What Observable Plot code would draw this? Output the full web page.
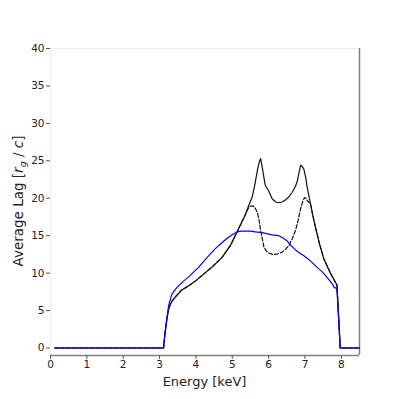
<!DOCTYPE html>
<html>
<head>
<meta charset="utf-8">
<script src="https://cdn.jsdelivr.net/npm/d3@7"></script>
<script src="https://cdn.jsdelivr.net/npm/@observablehq/plot@0.6"></script>
<style>
  html, body { margin: 0; padding: 0; background: #fff; }
  #chart { width: 399px; height: 399px; }
</style>
</head>
<body>
<div id="chart"></div>
<script>
// ---- data ----
const xTicks = [0, 1, 2, 3, 4, 5, 6, 7, 8];
const yTicks = [0, 5, 10, 15, 20, 25, 30, 35, 40];

const solidE = [0.12, 3.11, 3.15, 3.20, 3.25, 3.32, 3.43, 3.60, 3.80, 4.00, 4.17, 4.44, 4.72, 4.95, 5.13, 5.25, 5.36, 5.45, 5.55, 5.62, 5.69, 5.74, 5.78, 5.83, 5.87, 5.91, 6.00, 6.10, 6.20, 6.28, 6.37, 6.47, 6.56, 6.65, 6.74, 6.79, 6.83, 6.88, 6.93, 6.97, 7.02, 7.06, 7.15, 7.22, 7.29, 7.40, 7.52, 7.70, 7.88, 7.97, 8.50];
const solidL = [0, 0, 2.0, 3.8, 5.2, 6.1, 6.8, 7.7, 8.3, 9.0, 9.7, 10.8, 12.1, 13.7, 15.5, 16.7, 17.8, 19.0, 20.2, 21.8, 23.7, 24.8, 25.3, 24.0, 22.8, 21.7, 21.0, 19.9, 19.5, 19.4, 19.5, 19.8, 20.2, 20.8, 21.6, 22.3, 23.3, 24.4, 24.2, 23.9, 22.8, 21.5, 19.3, 17.6, 16.1, 13.9, 11.9, 10.0, 8.4, 0, 0];

const dashedE = [0.12, 3.11, 3.15, 3.20, 3.25, 3.32, 3.43, 3.60, 3.80, 4.00, 4.17, 4.44, 4.72, 4.95, 5.13, 5.25, 5.36, 5.41, 5.48, 5.57, 5.63, 5.69, 5.74, 5.78, 5.83, 5.87, 5.93, 6.00, 6.10, 6.19, 6.28, 6.37, 6.47, 6.56, 6.65, 6.74, 6.81, 6.88, 6.94, 6.99, 7.03, 7.06, 7.10, 7.15, 7.22, 7.29, 7.40, 7.52, 7.70, 7.88, 7.97, 8.50];
const dashedL = [0, 0, 2.0, 3.8, 5.2, 6.1, 6.8, 7.7, 8.3, 9.0, 9.7, 10.8, 12.1, 13.7, 15.5, 16.7, 17.8, 18.4, 18.9, 19.0, 18.7, 18.1, 17.0, 15.7, 14.5, 13.5, 13.0, 12.7, 12.5, 12.5, 12.6, 12.8, 13.2, 13.7, 14.6, 15.7, 17.0, 18.6, 19.6, 20.1, 20.0, 19.7, 19.5, 19.3, 17.6, 16.1, 13.9, 11.9, 10.0, 8.4, 0, 0];

const blueE = [0.12, 3.11, 3.15, 3.20, 3.25, 3.34, 3.43, 3.52, 3.65, 3.80, 3.95, 4.08, 4.22, 4.35, 4.50, 4.63, 4.77, 4.90, 5.02, 5.13, 5.25, 5.36, 5.50, 5.64, 5.82, 6.10, 6.28, 6.40, 6.51, 6.61, 6.74, 6.85, 6.98, 7.11, 7.22, 7.35, 7.47, 7.58, 7.68, 7.76, 7.80, 7.85, 7.88, 7.97, 8.50];
const blueL = [0, 0, 2.0, 3.9, 5.7, 7.2, 7.8, 8.3, 8.9, 9.5, 10.2, 10.8, 11.6, 12.3, 13.1, 13.7, 14.3, 14.8, 15.2, 15.5, 15.6, 15.6, 15.6, 15.5, 15.4, 15.1, 15.0, 14.7, 14.3, 13.7, 13.1, 12.7, 12.3, 11.8, 11.3, 10.7, 10.2, 9.6, 9.0, 8.5, 8.1, 8.0, 7.9, 0, 0];

const xLabel = "Energy [keV]";

// tables for Plot
const toRows = (E, L) => E.map((e, i) => ({E: e, L: L[i]}));
const solid = toRows(solidE, solidL);
const dashed = toRows(dashedE, dashedL);
const blue = toRows(blueE, blueL);

const chart = Plot.plot({
  width: 399,
  height: 399,
  marginLeft: 50,
  marginRight: 40,
  marginTop: 48,
  marginBottom: 44,
  style: { fontFamily: "DejaVu Sans", fontSize: "10.5px", background: "#fff", color: "#222" },
  x: { domain: [0, 8.5] },
  y: { domain: [-1, 40] },
  marks: [
    Plot.ruleX([0], { stroke: "#ececec", strokeWidth: 1 }),
    Plot.ruleY([40], { stroke: "#ececec", strokeWidth: 1 }),
    Plot.ruleX([8.5], { stroke: "#808080", strokeWidth: 1.5 }),
    Plot.ruleY([-1], { stroke: "#808080", strokeWidth: 1.5 }),
    Plot.axisX({ ticks: xTicks, tickSize: 4, tickPadding: 1, label: null, stroke: "#555", fill: "#222", fontSize: 10.5 }),
    Plot.axisY({ ticks: yTicks, tickSize: 4, tickPadding: 2, label: null, stroke: "#555", fill: "#222", fontSize: 10.5 }),
    Plot.line(dashed, { x: "E", y: "L", stroke: "#111", strokeWidth: 1.2, strokeDasharray: "4,2" }),
    Plot.line(solid, { x: "E", y: "L", stroke: "#111", strokeWidth: 1.2 }),
    Plot.line(blue, { x: "E", y: "L", stroke: "#0000ff", strokeWidth: 1.2 })
  ]
});

document.getElementById("chart").appendChild(chart);

const svg = d3.select(chart);
// x axis label
svg.append("text")
  .attr("x", 204.5)
  .attr("y", 386)
  .attr("text-anchor", "middle")
  .attr("font-family", "DejaVu Sans")
  .attr("font-size", 13)
  .attr("fill", "#222")
  .text(xLabel);

// y axis label with math (r_g / c)
const yl = svg.append("text")
  .attr("transform", "translate(23,201) rotate(-90)")
  .attr("text-anchor", "middle")
  .attr("font-family", "DejaVu Sans")
  .attr("font-size", 13.5)
  .attr("fill", "#222");
yl.append("tspan").text("Average Lag [");
yl.append("tspan").attr("font-style", "italic").text("r");
yl.append("tspan").attr("font-style", "italic").attr("font-size", 9.5).attr("dy", 3).text("g");
yl.append("tspan").attr("dy", -3).text(" / ");
yl.append("tspan").attr("font-style", "italic").text("c");
yl.append("tspan").text("]");
</script>
</body>
</html>
